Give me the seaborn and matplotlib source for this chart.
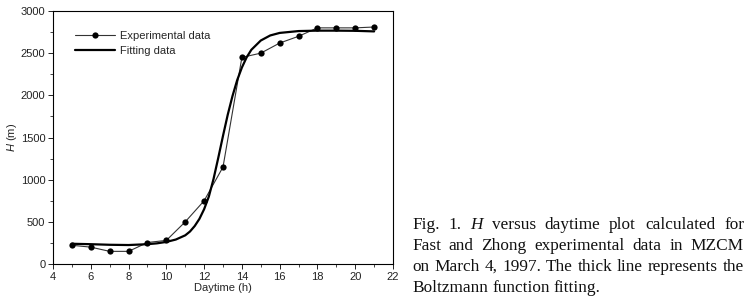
import seaborn as sns
import matplotlib.pyplot as plt
import pandas as pd

hours = [5, 6, 7, 8, 9, 10, 11, 12, 13, 14, 15, 16, 17, 18, 19, 20, 21]
height = [222, 200, 150, 150, 255, 280, 500, 750, 1150, 2450, 2500, 2620, 2700, 2800, 2800, 2800, 2810]

# Boltzmann fitting curve
fit_hours = [5, 6, 7, 8, 9, 9.5, 10, 10.5, 11, 11.25, 11.5, 11.75, 12, 12.25, 12.5, 12.75, 13,
             13.25, 13.5, 13.75, 14, 14.25, 14.5, 15, 15.5, 16, 17, 18, 19, 20, 21]
fit_height = [240, 235, 228, 225, 235, 245, 262, 290, 340, 385, 450, 535, 650, 800, 1010, 1260, 1520,
              1770, 1990, 2180, 2330, 2450, 2540, 2650, 2710, 2740, 2762, 2767, 2767, 2765, 2758]

exp_df = pd.DataFrame({"t": hours, "H": height})
fit_df = pd.DataFrame({"t": fit_hours, "H": fit_height})

sns.set_style("ticks")
plt.rcParams['font.family'] = ['Liberation Sans', 'DejaVu Sans']
plt.rcParams['mathtext.fontset'] = 'custom'
plt.rcParams['mathtext.it'] = 'Liberation Sans:italic'
plt.rcParams['mathtext.rm'] = 'Liberation Sans'

fig = plt.figure(figsize=(7.51, 3.02), dpi=100)
ax = fig.add_axes([0.0706, 0.1258, 0.4527, 0.8378])

sns.lineplot(data=exp_df, x="t", y="H", ax=ax, color="#333333", lw=0.8,
             marker="o", markersize=4.5, markeredgewidth=0, markerfacecolor="black",
             label="Experimental data")
sns.lineplot(data=fit_df, x="t", y="H", ax=ax, color="black", lw=1.6,
             label="Fitting data")

ax.set_xlim(4, 22)
ax.set_ylim(0, 3000)
ax.set_xticks(range(4, 23, 2))
ax.set_xticks(range(5, 22, 2), minor=True)
ax.set_yticks(range(0, 3001, 500))
ax.set_yticks(range(250, 3000, 500), minor=True)
ax.tick_params(which="major", direction="out", length=3.5, width=0.7, labelsize=8, pad=2, colors="#222222")
ax.tick_params(which="minor", direction="out", length=2, width=0.6)
for s in ax.spines.values():
    s.set_linewidth(0.8)
    s.set_color("black")

ax.set_xlabel("Daytime (h)", fontsize=8, labelpad=1)
ax.set_ylabel(r"$H$ (m)", fontsize=8, labelpad=1)

ax.legend(loc="upper left", frameon=False, fontsize=8, handlelength=3.6,
          bbox_to_anchor=(0.035, 0.96), labelspacing=0.45, handletextpad=0.5)

# caption, justified to the right edge
cap_font = ['Liberation Serif', 'DejaVu Serif']
cap_lines = [
    [("Fig.", "normal"), ("1.", "normal"), ("H", "italic"), ("versus", "normal"), ("daytime", "normal"),
     ("plot", "normal"), ("calculated", "normal"), ("for", "normal")],
    [("Fast", "normal"), ("and", "normal"), ("Zhong", "normal"), ("experimental", "normal"),
     ("data", "normal"), ("in", "normal"), ("MZCM", "normal")],
    [("on", "normal"), ("March", "normal"), ("4,", "normal"), ("1997.", "normal"), ("The", "normal"),
     ("thick", "normal"), ("line", "normal"), ("represents", "normal"), ("the", "normal")],
    [("Boltzmann", "normal"), ("function", "normal"), ("fitting.", "normal")],
]
x0, x1 = 412 / 751, 744 / 751
baselines = [229, 250, 271, 292]
fig.canvas.draw()
renderer = fig.canvas.get_renderer()
for i, words in enumerate(cap_lines):
    y = 1 - baselines[i] / 302
    texts = [fig.text(0, y, w, fontsize=12.4, family=cap_font, style=st, va="baseline", color="#111111")
             for w, st in words]
    widths = [t.get_window_extent(renderer).width / fig.bbox.width for t in texts]
    if i < 3:
        gap = (x1 - x0 - sum(widths)) / (len(texts) - 1)
    else:
        gap = 0.0055
    x = x0
    for t, w in zip(texts, widths):
        t.set_x(x)
        x += w + gap

fig.savefig("out.png", dpi=100)
